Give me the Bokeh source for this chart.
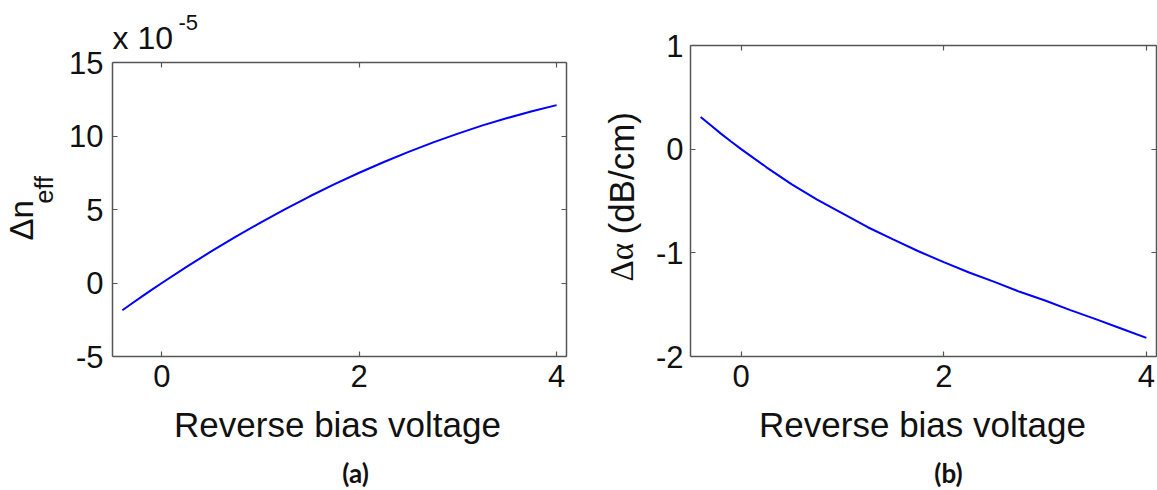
import numpy as np
from bokeh.plotting import figure
from bokeh.layouts import row
from bokeh.models import Label, FixedTicker, LinearAxis, Range1d
from bokeh.embed import file_html
from bokeh.resources import INLINE

# ---- data ----
bias_a = [-0.4, -0.3, -0.2, -0.1, 0.0, 0.25, 0.5, 0.75, 1.0, 1.25, 1.5, 1.75, 2.0,
          2.25, 2.5, 2.75, 3.0, 3.25, 3.5, 3.75, 4.0]
dneff = [-1.85, -1.38, -0.91, -0.45, 0.0, 1.10, 2.15, 3.15, 4.11, 5.03, 5.90, 6.72, 7.50,
         8.23, 8.92, 9.57, 10.16, 10.72, 11.22, 11.68, 12.10]  # x 1e-5

bias_b = [-0.4, -0.3, -0.2, -0.1, 0.0, 0.25, 0.5, 0.75, 1.0, 1.25, 1.5, 1.75, 2.0,
          2.25, 2.5, 2.75, 3.0, 3.25, 3.5, 3.75, 4.0]
dalpha = [0.31, 0.23, 0.15, 0.074, 0.0, -0.175, -0.34, -0.486, -0.62, -0.753, -0.87, -0.985, -1.09,
          -1.19, -1.28, -1.376, -1.46, -1.553, -1.64, -1.73, -1.82]  # dB/cm

x_lim = (-0.5, 4.1)
ya_lim = (-5, 15)
yb_lim = (-2, 1)
x_ticks = [0, 2, 4]
ya_ticks = [-5, 0, 5, 10, 15]
yb_ticks = [-2, -1, 0, 1]

AX = "#555555"
TXT = "#111111"
TICK_FONT = "31px"
SANS = "Liberation Sans"
H = 490


def make_panel(width, box, xlim, ylim, xt, yt):
    """box = (left, top, right, bottom) of the axes box in figure pixels."""
    l, t, r, b = box
    sx = (r - l) / (xlim[1] - xlim[0])
    sy = (b - t) / (ylim[1] - ylim[0])
    xr = Range1d(xlim[0] - l / sx, xlim[1] + (width - r) / sx)
    yr = Range1d(ylim[0] - (H - b) / sy, ylim[1] + t / sy)
    p = figure(width=width, height=H, output_backend="svg", toolbar_location=None,
               x_range=xr, y_range=yr, x_axis_location=None, y_axis_location=None,
               min_border=0, min_border_left=0, min_border_right=0,
               min_border_top=0, min_border_bottom=0)
    p.outline_line_color = None
    p.xgrid.visible = False
    p.ygrid.visible = False

    def neg_overrides(ticks):
        return {t_: ("-%g" % abs(t_)) for t_ in ticks if t_ < 0}

    bottom = LinearAxis(fixed_location=ylim[0], bounds=xlim, ticker=FixedTicker(ticks=xt))
    top = LinearAxis(fixed_location=ylim[1], bounds=xlim, ticker=FixedTicker(ticks=xt))
    left = LinearAxis(fixed_location=xlim[0], bounds=ylim, ticker=FixedTicker(ticks=yt),
                      major_label_overrides=neg_overrides(yt))
    right = LinearAxis(fixed_location=xlim[1], bounds=ylim, ticker=FixedTicker(ticks=yt))
    p.add_layout(bottom, "below")
    p.add_layout(top, "above")
    p.add_layout(left, "left")
    p.add_layout(right, "right")
    for ax in [bottom, top, left, right]:
        ax.axis_line_color = AX
        ax.axis_line_width = 1.5
        ax.major_tick_line_color = AX
        ax.major_tick_line_width = 1.2
        ax.major_tick_in = 5
        ax.major_tick_out = 0
        ax.minor_tick_line_color = None
        ax.major_label_text_font = SANS
        ax.major_label_text_color = TXT
        ax.major_label_text_font_size = TICK_FONT
    for ax in [top, right]:
        ax.major_label_text_color = None
    bottom.major_label_standoff = 8
    left.major_label_standoff = 9
    return p, left


def lab(p, x, y, text, size, angle=0.0, align="left", font=SANS, style="normal"):
    # x, y: figure pixels from top-left; y (or x when rotated) is the text's middle
    p.add_layout(Label(x=x, y=H - y, x_units="screen", y_units="screen", text=text,
                       text_font=font, text_font_size=size, text_align=align,
                       text_baseline="middle", angle=angle, text_color=TXT,
                       text_font_style=style))


# ---- panel (a) ----
pa, _ = make_panel(600, (112, 62, 566, 356), x_lim, ya_lim, x_ticks, ya_ticks)
pa.line(bias_a, dneff, line_color="#0000ff", line_width=2)
lab(pa, 21, 240, "Δn", "33px", angle=np.pi / 2)
lab(pa, 43, 203, "eff", "25px", angle=np.pi / 2)
lab(pa, 112, 37, "x 10", "32px")
lab(pa, 178, 22, "-5", "22px")
lab(pa, 337, 424, "Reverse bias voltage", "35px", align="center")
lab(pa, 355, 472, "(a)", "26px", align="center", font="Lato", style="bold")

# ---- panel (b) ----  (figure starts at x=600 of the page)
pb, left_b = make_panel(557, (90, 45, 556, 356), x_lim, yb_lim, x_ticks, yb_ticks)
left_b.major_label_standoff = 7
pb.line(bias_b, dalpha, line_color="#0000ff", line_width=2)
lab(pb, 21, 281, "Δα", "33px", angle=np.pi / 2, font="Liberation Serif")
lab(pb, 21, 234, "(dB/cm)", "35px", angle=np.pi / 2)
lab(pb, 322, 424, "Reverse bias voltage", "35px", align="center")
lab(pb, 348, 472, "(b)", "26px", align="center", font="Lato", style="bold")

layout = row(pa, pb)
open("out.html", "w").write(file_html(layout, INLINE))
